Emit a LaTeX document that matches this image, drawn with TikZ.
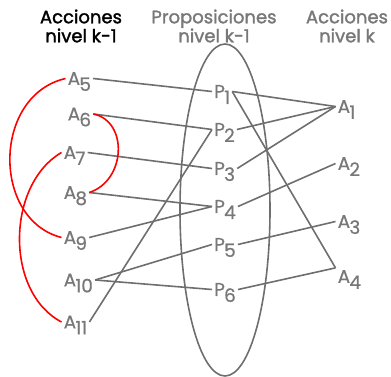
\documentclass[tikz,border=0pt]{standalone}
\usepackage{fontspec}
\setmainfont{Poppins}
\newfontfamily\headfont[FakeBold=1.6]{Poppins}
\newfontfamily\labfont[FakeBold=0.6]{Poppins}
\usetikzlibrary{shapes.geometric}
\definecolor{lngray}{HTML}{6E6E6E}
\definecolor{txgray}{HTML}{787878}
\definecolor{relred}{HTML}{FF0000}
% label with a lowered, full size index
\newcommand{\lbl}[2]{#1\kern-0.8pt\smash{\raisebox{-6pt}{#2}}}
\tikzset{
  lab/.style={text=txgray,font=\labfont\fontsize{18.5}{20}\selectfont,inner sep=2pt,anchor=west},
  head/.style={font=\headfont\fontsize{18}{19}\selectfont,align=center,inner sep=0pt},
  cn/.style={lngray,line width=1.6pt},
  rel/.style={relred,line width=1.6pt},
}

\begin{document}
\begin{tikzpicture}[x=1pt,y=-1pt]
  \useasboundingbox (0,0) rectangle (391,377);
  % Headers
  \node[head] (hl) at (81,26) {Acciones\\nivel k-1};
  \node[head,text=txgray] (hm) at (214,26) {Proposiciones\\nivel k-1};
  \node[head,text=txgray] (hr) at (347,26) {Acciones\\nivel k};
  % Propositions set
  \node[ellipse,draw=lngray,line width=1.6pt,minimum width=90,minimum height=332,inner sep=0pt] (set) at (225,210) {};
  % Actions level k-1
  \node[lab] (a5) at (65.5,78.5) {\lbl{A}{5}};
  \node[lab] (a6) at (65.5,114) {\lbl{A}{6}};
  \node[lab] (a7) at (61.5,152.5) {\lbl{A}{7}};
  \node[lab] (a8) at (61.5,192.5) {\lbl{A}{8}};
  \node[lab] (a9) at (61.5,237.5) {\lbl{A}{9}};
  \node[lab] (a10) at (61.5,280) {\lbl{A}{10}};
  \node[lab] (a11) at (61.5,322) {\lbl{A}{11}};
  % Propositions level k-1
  \node[lab] (p1) at (212,91.5) {\lbl{P}{1}};
  \node[lab] (p2) at (212,129.5) {\lbl{P}{2}};
  \node[lab] (p3) at (212,168.5) {\lbl{P}{3}};
  \node[lab] (p4) at (212,206.5) {\lbl{P}{4}};
  \node[lab] (p5) at (212,244.5) {\lbl{P}{5}};
  \node[lab] (p6) at (212,289.5) {\lbl{P}{6}};
  % Actions level k
  \node[lab] (a1) at (335.5,106.5) {\lbl{A}{1}};
  \node[lab] (a2) at (335.5,163.5) {\lbl{A}{2}};
  \node[lab] (a3) at (335.5,221.5) {\lbl{A}{3}};
  \node[lab] (a4) at (335.5,276.5) {\lbl{A}{4}};
  % Preconditions
  \draw[cn] (a5.east) -- (p1.west);
  \draw[cn] (a6.east) -- (p2.west);
  \draw[cn] (a11.east) -- (p2.west);
  \draw[cn] (a7.east) -- (p3.west);
  \draw[cn] (a8.east) -- (p4.west);
  \draw[cn] (a9.east) -- (p4.west);
  \draw[cn] (a10.east) -- (p5.west);
  \draw[cn] (a10.east) -- (p6.west);
  % Effects
  \draw[cn] (p1.east) -- (a1.west);
  \draw[cn] (p2.east) -- (a1.west);
  \draw[cn] (p3.east) -- (a1.west);
  \draw[cn] (p1.east) -- (a4.north west);
  \draw[cn] (p4.east) -- (a2.west);
  \draw[cn] (p5.east) -- (a3.west);
  \draw[cn] (p6.east) -- (a4.north west);
  % Mutex arcs
  \draw[rel] (a5.west) .. controls +(-73,17) and +(-70,-18) .. (a9.west);
  \draw[rel] (a6.east) .. controls +(35,7) and +(37,-12) .. (a8.east);
  \draw[rel] (a7.west) .. controls +(-55,32) and +(-57,-30) .. (a11.west);
\end{tikzpicture}
\end{document}
